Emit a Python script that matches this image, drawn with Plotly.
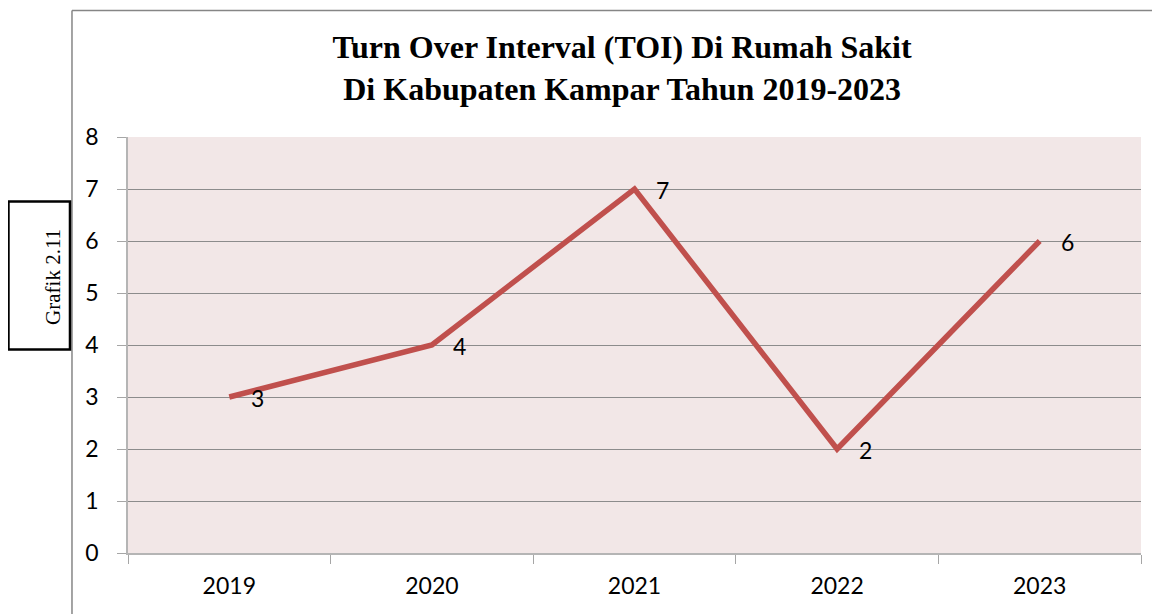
import plotly.graph_objects as go

years = ["2019", "2020", "2021", "2022", "2023"]
toi = [3, 4, 7, 2, 6]
title_lines = ["Turn Over Interval (TOI) Di Rumah Sakit", "Di Kabupaten Kampar Tahun 2019-2023"]
side_label = "Grafik 2.11"

# page body has an 8px default margin; work in page pixels and offset
OFF = 8
W, H = 1160 - OFF, 614 - OFF
L, R, T, B = 128 - OFF, 1140.7 - OFF, 136.5 - OFF, 552.7 - OFF

def px_x(p):
    return (p - OFF - L) / (R - L)

def px_y(p):
    return (B - (p - OFF)) / (B - T)

fig = go.Figure()
fig.add_trace(go.Scatter(
    x=years, y=toi, mode="lines",
    line=dict(color="#c0504d", width=5.5),
    hoverinfo="skip", showlegend=False,
))

for i, v in enumerate(toi):
    fig.add_annotation(x=i, y=v, text=str(v), showarrow=False,
                       xshift=28, yshift=-1,
                       font=dict(family="Lato", size=23, color="#000000"))

# outer chart frame
fig.add_shape(type="line", xref="paper", yref="paper",
              x0=px_x(72), x1=px_x(72), y0=px_y(620), y1=px_y(10),
              line=dict(color="#868686", width=1.5), layer="below")
fig.add_shape(type="line", xref="paper", yref="paper",
              x0=px_x(72), x1=px_x(1170), y0=px_y(10), y1=px_y(10),
              line=dict(color="#868686", width=1.5), layer="below")

# side box
fig.add_shape(type="rect", xref="paper", yref="paper",
              x0=px_x(8.5), x1=px_x(70), y0=px_y(349), y1=px_y(201),
              line=dict(color="#000000", width=2.5), fillcolor="#ffffff")
fig.add_annotation(xref="paper", yref="paper", x=px_x(39.5), y=px_y(276),
                   text=side_label, textangle=-90, showarrow=False,
                   font=dict(family="Liberation Serif", size=21, color="#000000"))

fig.update_layout(
    width=W, height=H,
    margin=dict(l=L, r=W - R, t=T, b=H - B, pad=0),
    paper_bgcolor="#ffffff",
    plot_bgcolor="#f2e7e7",
    title=dict(text="<b>" + title_lines[0] + "<br>" + title_lines[1] + "</b>",
               x=px_x(622), xanchor="center", xref="paper",
               y=1 - (58 - OFF) / H, yanchor="middle", yref="container",
               font=dict(family="Liberation Serif", size=32, color="#000000")),
    xaxis=dict(
        type="category", tickson="boundaries", ticks="outside", ticklen=9,
        tickcolor="#a6a6a6", showline=True, linecolor="#b5b5b5", linewidth=1.5,
        showgrid=False, tickfont=dict(family="Lato", size=23, color="#000000"),
        ticklabelstandoff=12, range=[-0.5, 4.5],
    ),
    yaxis=dict(
        range=[0, 8], dtick=1, tick0=0, ticks="outside", ticklen=9,
        tickcolor="#a6a6a6", showline=True, linecolor="#b5b5b5", linewidth=1.5,
        showgrid=True, gridcolor="#8c8c8c", gridwidth=1, zeroline=False,
        tickfont=dict(family="Lato", size=23, color="#000000"),
        ticklabelstandoff=14,
    ),
)

fig.write_html("out.html")
